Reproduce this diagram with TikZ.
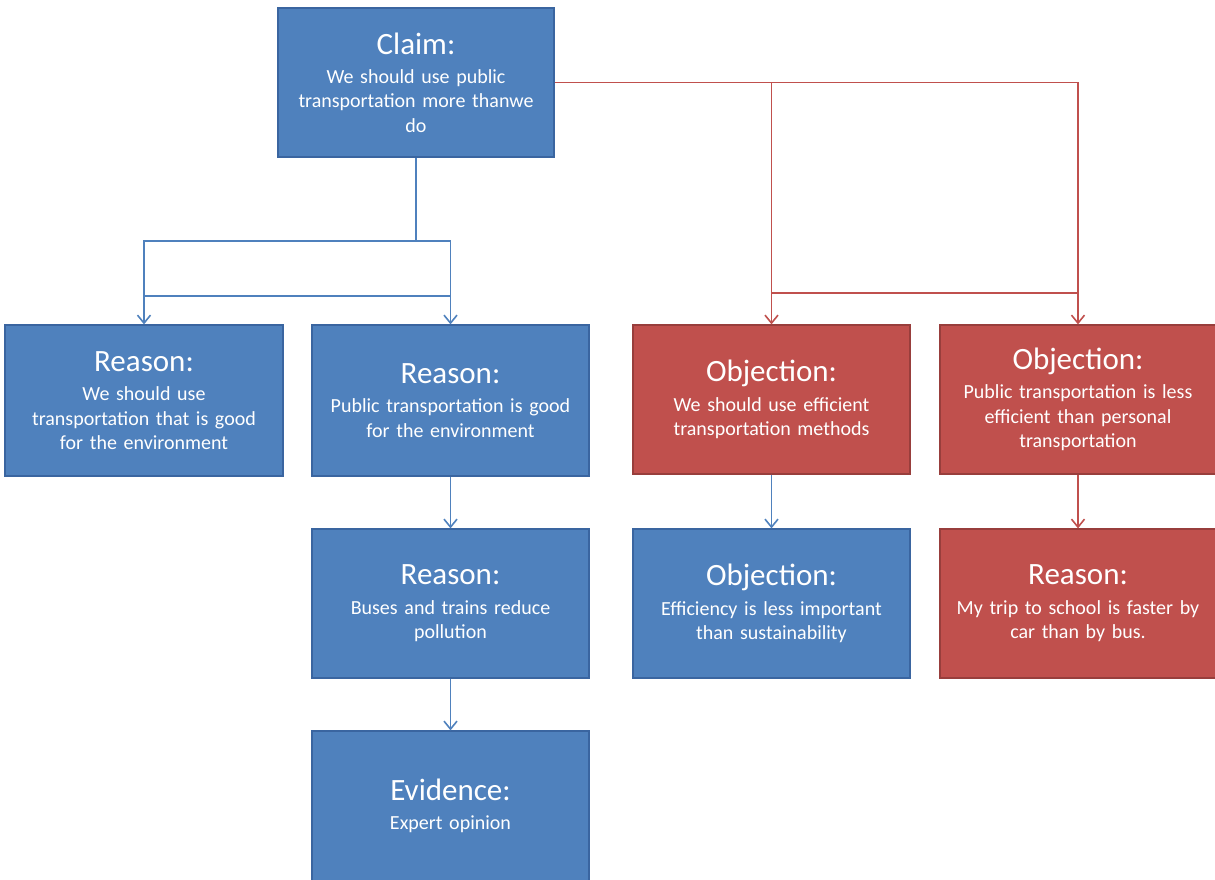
\documentclass[tikz,border=0pt]{standalone}
\usepackage{fontspec}
\setmainfont{Carlito}
\usetikzlibrary{arrows.meta}
\definecolor{bfill}{HTML}{4F81BD}
\definecolor{bdraw}{HTML}{3A65A0}
\definecolor{rfill}{HTML}{C0504D}
\definecolor{rdraw}{HTML}{983E3C}
\newcommand\boxtitle[1]{{\fontsize{31}{31}\selectfont #1}\\[4.8pt]}
\begin{document}
\begin{tikzpicture}[x=1pt,y=-1pt,
  box/.style={draw, line width=1.2pt, minimum height=150pt, minimum width=277pt,
    text width=268pt, align=center, inner sep=0pt, text=white,
    font=\fontsize{20}{24.5}\selectfont},
  bbox/.style={box, fill=bfill, draw=bdraw},
  rbox/.style={box, fill=rfill, draw=rdraw},
  conn/.style={line width=1.6pt},
  bconn/.style={conn, draw=bfill},
  rconn/.style={conn, draw=rfill},
  tip/.style={-{Straight Barb[length=8pt,width=13pt]}}
]
\useasboundingbox (0,0) rectangle (1215,880);

\node[bbox, minimum height=149pt, minimum width=276pt] (claim) at (416,82.5)
  {\boxtitle{Claim:}We should use public\\transportation more thanwe\\do};
\node[bbox, minimum height=151pt, minimum width=278pt] (r1) at (144,400.5)
  {\boxtitle{Reason:}We should use\\transportation that is good\\for the environment};
\node[bbox, minimum height=151pt] (r2) at (450.5,400.5)
  {\boxtitle{Reason:}Public transportation is good\\for the environment};
\node[rbox, minimum height=149pt] (o1) at (771.5,399.5)
  {\boxtitle{Objection:}We should use efficient\\transportation methods};
\node[rbox, minimum height=149pt, minimum width=276pt] (o2) at (1078,399.5)
  {\boxtitle{Objection:}Public transportation is less\\efficient than personal\\transportation};
\node[bbox, minimum height=149pt] (r3) at (450.5,603.5)
  {\boxtitle{Reason:}Buses and trains reduce\\pollution};
\node[bbox, minimum height=149pt] (o3) at (771.5,603.5)
  {\boxtitle{Objection:}Efficiency is less important\\than sustainability};
\node[rbox, minimum height=149pt, minimum width=276pt] (r4) at (1078,603.5)
  {\boxtitle{Reason:}My trip to school is faster by\\car than by bus.};
\node[bbox, minimum height=150pt] (ev) at (450.5,806)
  {\boxtitle{Evidence:}Expert opinion};

% blue connectors from claim
\coordinate (bj) at (416,241);
\draw[bconn, tip] (claim.south) -- (bj) -| (r1.north);
\draw[bconn, tip] (bj) -| (r2.north);
\coordinate (bl) at (144,296);
\coordinate (br) at (450.5,296);
\draw[bconn] (bl) -- (br);

% red connectors from claim
\draw[rconn, tip] (claim.east) -| (o1.north);
\draw[rconn, tip] (claim.east) -| (o2.north);
\coordinate (rl) at (771.5,293);
\coordinate (rr) at (1078,293);
\draw[rconn] (rl) -- (rr);

% vertical links
\draw[bconn, tip] (r2.south) -- (r3.north);
\draw[bconn, tip] (r3.south) -- (ev.north);
\draw[bconn, tip] (o1.south) -- (o3.north);
\draw[rconn, tip] (o2.south) -- (r4.north);
\end{tikzpicture}
\end{document}
